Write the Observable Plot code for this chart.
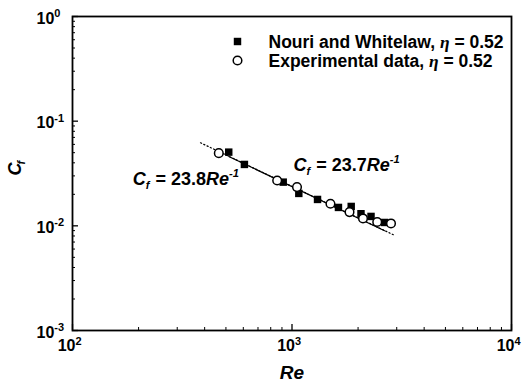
<!DOCTYPE html>
<html>
<head>
<meta charset="utf-8">
<script src="https://cdn.jsdelivr.net/npm/d3@7"></script>
<script src="https://cdn.jsdelivr.net/npm/@observablehq/plot@0.6"></script>
<style>
  html, body { margin: 0; padding: 0; background: #fff; }
</style>
</head>
<body>
<div id="chart"></div>
<script>
// Skin-friction coefficient against Reynolds number
// Nouri and Whitelaw, eta = 0.52 (filled squares)
const nouriRe = [515, 607, 912, 1074, 1307, 1628, 1861, 2062, 2291, 2639];
const nouriCf = [0.0506, 0.0386, 0.02615, 0.0204, 0.01787, 0.01499, 0.01532, 0.01305, 0.0123, 0.01077];
// Experimental data, eta = 0.52 (open circles)
const expRe = [464, 856, 1054, 1497, 1828, 2106, 2445, 2825];
const expCf = [0.0495, 0.0271, 0.02344, 0.01626, 0.01352, 0.01177, 0.01089, 0.01054];
// Fitted laws Cf = k * Re^-1 and the Re span each one is drawn over
const fitCoef = [23.7, 23.8];
const fitReSpan = [[515, 2640], [383, 2960]];
// Decade ticks
const xTicks = [100, 1000, 10000];
const yTicks = [0.001, 0.01, 0.1, 1];
const legendNames = ["Nouri and Whitelaw, ", "Experimental data, "];
const etaValue = "0.52";

const W = 524, H = 387;
const M = {left: 72, right: 13, top: 16, bottom: 57};
const frameW = W - M.left - M.right;
const frameH = H - M.top - M.bottom;
const FONT = '"Liberation Sans", Arial, Helvetica, sans-serif';
const SERIF = '"Liberation Serif", "Times New Roman", serif';

const minors = (ticks) => ticks.slice(0, -1).flatMap(t => d3.range(2, 10).map(k => t * k));
const xMinor = minors(xTicks);
const yMinor = minors(yTicks);
const expOf = (v) => String(Math.round(Math.log10(v)));

// text measurement for the multi-part labels
const ctx = document.createElement("canvas").getContext("2d");
function measure(text, size, italic, family) {
  ctx.font = `${italic ? "italic " : ""}bold ${size}px ${family || FONT}`;
  return ctx.measureText(text).width;
}

// Builds a run of text marks (sub/superscripts, italics) starting at one anchor.
function richText(anchor, parts, size) {
  let off = 0;
  const marks = [];
  for (const p of parts) {
    const s = p.scale ? size * p.scale : size;
    const base = anchor.frameAnchor
      ? {frameAnchor: anchor.frameAnchor, dx: anchor.dx + off, dy: anchor.dy + (p.shift || 0)}
      : {x: () => anchor.x, y: () => anchor.y, dx: off, dy: (p.shift || 0)};
    marks.push(Plot.text([0], {
      ...base,
      text: () => p.t,
      textAnchor: "start",
      lineAnchor: "bottom",
      fontSize: s,
      fontWeight: "bold",
      fontStyle: p.italic ? "italic" : "normal",
      fontFamily: p.family || FONT,
      fill: "black"
    }));
    off += measure(p.t, s, p.italic, p.family) + (p.gap || 0);
  }
  return marks;
}

const fitLabel = (k) => [
  {t: "C", italic: true},
  {t: "f", italic: true, scale: 0.62, shift: 4, gap: 1},
  {t: ` = ${k}`},
  {t: "Re", italic: true},
  {t: "-1", italic: true, scale: 0.62, shift: -8}
];

const fitPoints = fitCoef.map((k, i) => fitReSpan[i].map(re => ({Re: re, Cf: k / re})));

const TICK_FS = 16, SUP_FS = 11;

const chart = Plot.plot({
  width: W, height: H,
  marginLeft: M.left, marginRight: M.right, marginTop: M.top, marginBottom: M.bottom,
  x: {type: "log", domain: [100, 10000], axis: null},
  y: {type: "log", domain: [0.001, 1], axis: null},
  style: {fontFamily: FONT, background: "white", color: "black", overflow: "visible"},
  marks: [
    // minor and major ticks, drawn inward from the left and bottom edges
    Plot.ruleX(xMinor, {x: d => d, insetTop: frameH - 3, stroke: "black", strokeWidth: 1}),
    Plot.ruleX(xTicks, {x: d => d, insetTop: frameH - 6, stroke: "black", strokeWidth: 1.3}),
    Plot.ruleY(yMinor, {y: d => d, insetRight: frameW - 3, stroke: "black", strokeWidth: 1}),
    Plot.ruleY(yTicks, {y: d => d, insetRight: frameW - 6, stroke: "black", strokeWidth: 1.3}),
    Plot.frame({stroke: "black", strokeWidth: 1.8}),

    // x tick labels 10^n
    Plot.text(xTicks, {x: d => d, frameAnchor: "bottom", text: () => "10", textAnchor: "end", dx: 3, dy: 20,
      fontSize: TICK_FS, fontWeight: "bold", fill: "black"}),
    Plot.text(xTicks, {x: d => d, frameAnchor: "bottom", text: expOf, textAnchor: "start", dx: 3, dy: 14,
      fontSize: SUP_FS, fontWeight: "bold", fill: "black"}),
    // y tick labels 10^n
    Plot.text(yTicks, {y: d => d, frameAnchor: "left", text: () => "10", textAnchor: "start", dx: -36, dy: 2,
      fontSize: TICK_FS, fontWeight: "bold", fill: "black"}),
    Plot.text(yTicks, {y: d => d, frameAnchor: "left", text: expOf, textAnchor: "start",
      dx: -36 + measure("10", TICK_FS, false), dy: -3,
      fontSize: SUP_FS, fontWeight: "bold", fill: "black"}),

    // axis titles
    Plot.text([0], {frameAnchor: "bottom", text: () => "Re", dy: 48, fontSize: 19, fontWeight: "bold",
      fontStyle: "italic", fill: "black"}),
    Plot.text([0], {frameAnchor: "left", text: () => "C", rotate: -90, dx: -57, dy: 2, fontSize: 18,
      fontWeight: "bold", fontStyle: "italic", fill: "black"}),
    Plot.text([0], {frameAnchor: "left", text: () => "f", rotate: -90, dx: -51, dy: -9, fontSize: 11,
      fontWeight: "bold", fontStyle: "italic", fill: "black"}),

    // fitted laws
    Plot.line(fitPoints[1], {x: "Re", y: "Cf", stroke: "black", strokeWidth: 1.2, strokeDasharray: "1.2,2.4"}),
    Plot.line(fitPoints[0], {x: "Re", y: "Cf", stroke: "black", strokeWidth: 1.2}),

    // data
    Plot.dot(nouriRe, {x: d => d, y: (d, i) => nouriCf[i], symbol: "square", r: 4.2, fill: "black", stroke: "none"}),
    Plot.dot(expRe, {x: d => d, y: (d, i) => expCf[i], symbol: "circle", r: 4.3, fill: "white", stroke: "black", strokeWidth: 1.5}),

    // fit annotations
    ...richText({x: 188, y: 0.0243}, fitLabel(fitCoef[1]), 18),
    ...richText({x: 1016, y: 0.0331}, fitLabel(fitCoef[0]), 18),

    // legend
    Plot.dot([0], {frameAnchor: "top-left", dx: 165, dy: 25, symbol: "square", r: 4.2, fill: "black", stroke: "none"}),
    Plot.dot([0], {frameAnchor: "top-left", dx: 165, dy: 44, symbol: "circle", r: 4.3, fill: "white", stroke: "black", strokeWidth: 1.5}),
    ...legendNames.flatMap((name, i) => richText({frameAnchor: "top-left", dx: 196, dy: 31.5 + 19 * i}, [
      {t: name},
      {t: "\u03b7", italic: true, family: SERIF},
      {t: ` = ${etaValue}`}
    ], 17.5))
  ]
});

document.getElementById("chart").appendChild(chart);
</script>
</body>
</html>
